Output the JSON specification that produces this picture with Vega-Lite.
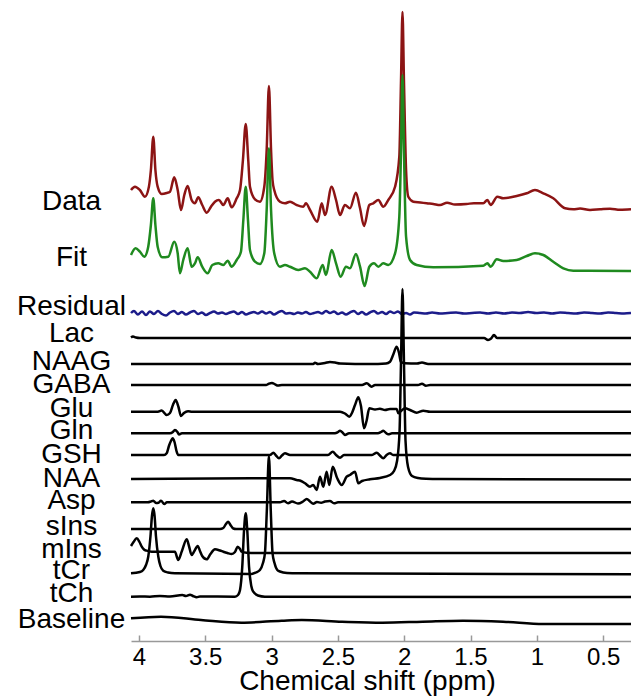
{
"$schema": "https://vega.github.io/schema/vega-lite/v6.json",
"width": 500, "height": 641,
"autosize": {"type": "none"},
"padding": {"left": 131, "top": 0, "right": 0, "bottom": 59},
"background": "white",
"config": {"view": {"stroke": null}, "font": "Liberation Sans"},
"data": {"values": [
{"s":"Data","x":4.060,"y":451},{"s":"Data","x":4.030,"y":454.3},{"s":"Data","x":3.993,"y":451},{"s":"Data","x":3.955,"y":444.3},{"s":"Data","x":3.925,"y":454.3},{"s":"Data","x":3.910,"y":471},{"s":"Data","x":3.892,"y":504.3},{"s":"Data","x":3.876,"y":471},{"s":"Data","x":3.859,"y":454.3},{"s":"Data","x":3.829,"y":447},{"s":"Data","x":3.791,"y":448},{"s":"Data","x":3.766,"y":449.3},{"s":"Data","x":3.734,"y":463.7},{"s":"Data","x":3.708,"y":451},{"s":"Data","x":3.683,"y":431},{"s":"Data","x":3.658,"y":446},{"s":"Data","x":3.633,"y":455},{"s":"Data","x":3.603,"y":441},{"s":"Data","x":3.578,"y":437.7},{"s":"Data","x":3.553,"y":443.7},{"s":"Data","x":3.523,"y":436},{"s":"Data","x":3.489,"y":428.3},{"s":"Data","x":3.457,"y":434.3},{"s":"Data","x":3.427,"y":439.3},{"s":"Data","x":3.397,"y":441},{"s":"Data","x":3.364,"y":436},{"s":"Data","x":3.331,"y":442.7},{"s":"Data","x":3.301,"y":433.7},{"s":"Data","x":3.263,"y":442.7},{"s":"Data","x":3.238,"y":451},{"s":"Data","x":3.216,"y":481},{"s":"Data","x":3.195,"y":517},{"s":"Data","x":3.176,"y":481},{"s":"Data","x":3.163,"y":454.3},{"s":"Data","x":3.125,"y":441.7},{"s":"Data","x":3.088,"y":439.3},{"s":"Data","x":3.055,"y":454.3},{"s":"Data","x":3.037,"y":491},{"s":"Data","x":3.020,"y":555},{"s":"Data","x":3.004,"y":491},{"s":"Data","x":2.993,"y":461},{"s":"Data","x":2.980,"y":451},{"s":"Data","x":2.937,"y":439.3},{"s":"Data","x":2.899,"y":437.7},{"s":"Data","x":2.861,"y":439.3},{"s":"Data","x":2.811,"y":436},{"s":"Data","x":2.761,"y":434.3},{"s":"Data","x":2.741,"y":437.7},{"s":"Data","x":2.710,"y":431},{"s":"Data","x":2.655,"y":419.3},{"s":"Data","x":2.622,"y":437.7},{"s":"Data","x":2.597,"y":426},{"s":"Data","x":2.547,"y":454.3},{"s":"Data","x":2.514,"y":441},{"s":"Data","x":2.484,"y":426},{"s":"Data","x":2.447,"y":436},{"s":"Data","x":2.409,"y":432.7},{"s":"Data","x":2.364,"y":448.3},{"s":"Data","x":2.333,"y":432.7},{"s":"Data","x":2.303,"y":415},{"s":"Data","x":2.263,"y":436},{"s":"Data","x":2.233,"y":437.7},{"s":"Data","x":2.195,"y":441},{"s":"Data","x":2.158,"y":434.3},{"s":"Data","x":2.120,"y":441},{"s":"Data","x":2.069,"y":454.3},{"s":"Data","x":2.037,"y":484.3},{"s":"Data","x":2.024,"y":561},{"s":"Data","x":2.013,"y":629},{"s":"Data","x":2.002,"y":561},{"s":"Data","x":1.986,"y":471},{"s":"Data","x":1.969,"y":444.3},{"s":"Data","x":1.931,"y":439.3},{"s":"Data","x":1.878,"y":438.5},{"s":"Data","x":1.830,"y":437.7},{"s":"Data","x":1.781,"y":437},{"s":"Data","x":1.730,"y":436},{"s":"Data","x":1.677,"y":438.3},{"s":"Data","x":1.617,"y":436.5},{"s":"Data","x":1.529,"y":437},{"s":"Data","x":1.474,"y":437.8},{"s":"Data","x":1.404,"y":437.7},{"s":"Data","x":1.373,"y":441},{"s":"Data","x":1.348,"y":436},{"s":"Data","x":1.298,"y":444.3},{"s":"Data","x":1.253,"y":442.7},{"s":"Data","x":1.152,"y":445},{"s":"Data","x":1.076,"y":447.7},{"s":"Data","x":1.014,"y":451},{"s":"Data","x":0.951,"y":447.7},{"s":"Data","x":0.876,"y":442.7},{"s":"Data","x":0.787,"y":432.7},{"s":"Data","x":0.725,"y":431.7},{"s":"Data","x":0.674,"y":432.5},{"s":"Data","x":0.599,"y":431},{"s":"Data","x":0.523,"y":431.7},{"s":"Data","x":0.448,"y":432.3},{"s":"Data","x":0.373,"y":431.2},{"s":"Data","x":0.290,"y":431.7},

{"s":"Fit","x":4.060,"y":386},{"s":"Fit","x":4.025,"y":392.7},{"s":"Fit","x":3.993,"y":389.3},{"s":"Fit","x":3.960,"y":384.3},{"s":"Fit","x":3.930,"y":394.3},{"s":"Fit","x":3.910,"y":416},{"s":"Fit","x":3.892,"y":442.7},{"s":"Fit","x":3.876,"y":416},{"s":"Fit","x":3.859,"y":394.3},{"s":"Fit","x":3.824,"y":383.7},{"s":"Fit","x":3.779,"y":384.3},{"s":"Fit","x":3.734,"y":399.3},{"s":"Fit","x":3.708,"y":387.7},{"s":"Fit","x":3.691,"y":367.7},{"s":"Fit","x":3.666,"y":381},{"s":"Fit","x":3.633,"y":392.7},{"s":"Fit","x":3.603,"y":374.3},{"s":"Fit","x":3.578,"y":377.7},{"s":"Fit","x":3.557,"y":383.7},{"s":"Fit","x":3.523,"y":374.3},{"s":"Fit","x":3.482,"y":367.7},{"s":"Fit","x":3.447,"y":376},{"s":"Fit","x":3.402,"y":377.7},{"s":"Fit","x":3.364,"y":376},{"s":"Fit","x":3.331,"y":380.3},{"s":"Fit","x":3.301,"y":374.3},{"s":"Fit","x":3.263,"y":381},{"s":"Fit","x":3.231,"y":389.3},{"s":"Fit","x":3.213,"y":421},{"s":"Fit","x":3.195,"y":454.3},{"s":"Fit","x":3.178,"y":421},{"s":"Fit","x":3.163,"y":391},{"s":"Fit","x":3.125,"y":379.3},{"s":"Fit","x":3.088,"y":377},{"s":"Fit","x":3.055,"y":387.7},{"s":"Fit","x":3.037,"y":431},{"s":"Fit","x":3.020,"y":492.7},{"s":"Fit","x":3.004,"y":431},{"s":"Fit","x":2.980,"y":387.7},{"s":"Fit","x":2.937,"y":374.3},{"s":"Fit","x":2.899,"y":376},{"s":"Fit","x":2.861,"y":374.3},{"s":"Fit","x":2.799,"y":371},{"s":"Fit","x":2.748,"y":372.7},{"s":"Fit","x":2.710,"y":369.3},{"s":"Fit","x":2.660,"y":362.7},{"s":"Fit","x":2.615,"y":376},{"s":"Fit","x":2.590,"y":366},{"s":"Fit","x":2.547,"y":391},{"s":"Fit","x":2.514,"y":377.7},{"s":"Fit","x":2.479,"y":364.3},{"s":"Fit","x":2.439,"y":374.3},{"s":"Fit","x":2.409,"y":372.7},{"s":"Fit","x":2.364,"y":387},{"s":"Fit","x":2.333,"y":374.3},{"s":"Fit","x":2.299,"y":355},{"s":"Fit","x":2.263,"y":374.3},{"s":"Fit","x":2.228,"y":377.7},{"s":"Fit","x":2.195,"y":374.3},{"s":"Fit","x":2.158,"y":377.7},{"s":"Fit","x":2.120,"y":376},{"s":"Fit","x":2.069,"y":387.7},{"s":"Fit","x":2.037,"y":424.3},{"s":"Fit","x":2.024,"y":491},{"s":"Fit","x":2.013,"y":566},{"s":"Fit","x":2.002,"y":491},{"s":"Fit","x":1.986,"y":404.3},{"s":"Fit","x":1.956,"y":381},{"s":"Fit","x":1.906,"y":376},{"s":"Fit","x":1.781,"y":373.7},{"s":"Fit","x":1.404,"y":375.3},{"s":"Fit","x":1.373,"y":377.7},{"s":"Fit","x":1.348,"y":374.3},{"s":"Fit","x":1.302,"y":381.7},{"s":"Fit","x":1.253,"y":380},{"s":"Fit","x":1.152,"y":381},{"s":"Fit","x":1.076,"y":385},{"s":"Fit","x":1.014,"y":387.7},{"s":"Fit","x":0.951,"y":386},{"s":"Fit","x":0.876,"y":379.3},{"s":"Fit","x":0.800,"y":372.7},{"s":"Fit","x":0.725,"y":370.3},{"s":"Fit","x":0.290,"y":370},

{"s":"Residual","x":4.060,"y":328},{"s":"Residual","x":4.038,"y":330},{"s":"Residual","x":4.008,"y":326.5},{"s":"Residual","x":3.977,"y":329.5},{"s":"Residual","x":3.947,"y":326},{"s":"Residual","x":3.917,"y":329.5},{"s":"Residual","x":3.887,"y":327},{"s":"Residual","x":3.857,"y":330},{"s":"Residual","x":3.827,"y":327},{"s":"Residual","x":3.796,"y":325.5},{"s":"Residual","x":3.766,"y":328.5},{"s":"Residual","x":3.736,"y":330},{"s":"Residual","x":3.706,"y":327},{"s":"Residual","x":3.676,"y":329},{"s":"Residual","x":3.646,"y":326.5},{"s":"Residual","x":3.615,"y":328.5},{"s":"Residual","x":3.585,"y":330},{"s":"Residual","x":3.555,"y":327},{"s":"Residual","x":3.525,"y":328.5},{"s":"Residual","x":3.495,"y":326},{"s":"Residual","x":3.465,"y":328},{"s":"Residual","x":3.434,"y":329.5},{"s":"Residual","x":3.404,"y":327.5},{"s":"Residual","x":3.374,"y":328.5},{"s":"Residual","x":3.344,"y":327},{"s":"Residual","x":3.314,"y":328.5},{"s":"Residual","x":3.284,"y":329.5},{"s":"Residual","x":3.253,"y":327},{"s":"Residual","x":3.223,"y":329},{"s":"Residual","x":3.193,"y":326.5},{"s":"Residual","x":3.163,"y":328},{"s":"Residual","x":3.133,"y":329},{"s":"Residual","x":3.103,"y":327.5},{"s":"Residual","x":3.072,"y":329.5},{"s":"Residual","x":3.042,"y":327.5},{"s":"Residual","x":3.012,"y":329},{"s":"Residual","x":2.982,"y":326.5},{"s":"Residual","x":2.952,"y":328.5},{"s":"Residual","x":2.922,"y":330},{"s":"Residual","x":2.891,"y":327.5},{"s":"Residual","x":2.861,"y":328},{"s":"Residual","x":2.831,"y":327},{"s":"Residual","x":2.801,"y":328.5},{"s":"Residual","x":2.771,"y":327.5},{"s":"Residual","x":2.741,"y":329},{"s":"Residual","x":2.710,"y":327},{"s":"Residual","x":2.680,"y":328},{"s":"Residual","x":2.650,"y":329},{"s":"Residual","x":2.620,"y":327.5},{"s":"Residual","x":2.590,"y":330},{"s":"Residual","x":2.560,"y":328},{"s":"Residual","x":2.529,"y":329.5},{"s":"Residual","x":2.499,"y":327},{"s":"Residual","x":2.469,"y":328.5},{"s":"Residual","x":2.439,"y":326.5},{"s":"Residual","x":2.409,"y":328.5},{"s":"Residual","x":2.379,"y":330},{"s":"Residual","x":2.348,"y":327},{"s":"Residual","x":2.318,"y":329},{"s":"Residual","x":2.288,"y":326.5},{"s":"Residual","x":2.258,"y":328.5},{"s":"Residual","x":2.228,"y":330},{"s":"Residual","x":2.198,"y":327.5},{"s":"Residual","x":2.167,"y":329},{"s":"Residual","x":2.137,"y":327},{"s":"Residual","x":2.107,"y":329.5},{"s":"Residual","x":2.077,"y":328},{"s":"Residual","x":2.047,"y":329.5},{"s":"Residual","x":2.017,"y":327},{"s":"Residual","x":1.986,"y":328},{"s":"Residual","x":1.956,"y":326.5},{"s":"Residual","x":1.926,"y":328.5},{"s":"Residual","x":1.881,"y":328},{"s":"Residual","x":1.836,"y":327.5},{"s":"Residual","x":1.790,"y":328.5},{"s":"Residual","x":1.730,"y":327.5},{"s":"Residual","x":1.670,"y":328},{"s":"Residual","x":1.609,"y":328.5},{"s":"Residual","x":1.549,"y":327.5},{"s":"Residual","x":1.489,"y":328},{"s":"Residual","x":1.428,"y":328.5},{"s":"Residual","x":1.368,"y":327.5},{"s":"Residual","x":1.308,"y":328.5},{"s":"Residual","x":1.247,"y":327.5},{"s":"Residual","x":1.187,"y":328.5},{"s":"Residual","x":1.127,"y":328},{"s":"Residual","x":1.066,"y":329},{"s":"Residual","x":1.006,"y":328},{"s":"Residual","x":0.946,"y":328.5},{"s":"Residual","x":0.885,"y":327.5},{"s":"Residual","x":0.825,"y":328.5},{"s":"Residual","x":0.765,"y":328},{"s":"Residual","x":0.704,"y":327.5},{"s":"Residual","x":0.644,"y":328.5},{"s":"Residual","x":0.584,"y":328},{"s":"Residual","x":0.523,"y":327.5},{"s":"Residual","x":0.463,"y":328.5},{"s":"Residual","x":0.403,"y":328},{"s":"Residual","x":0.342,"y":327.5},{"s":"Residual","x":0.290,"y":328},

{"s":"Lac","x":4.060,"y":303.5},{"s":"Lac","x":4.045,"y":304.5},{"s":"Lac","x":4.023,"y":303.5},{"s":"Lac","x":3.993,"y":303},{"s":"Lac","x":1.428,"y":303},{"s":"Lac","x":1.398,"y":303},{"s":"Lac","x":1.368,"y":301},{"s":"Lac","x":1.345,"y":302.5},{"s":"Lac","x":1.323,"y":306},{"s":"Lac","x":1.300,"y":303},{"s":"Lac","x":1.277,"y":303},{"s":"Lac","x":0.290,"y":303},

{"s":"NAAG","x":4.060,"y":277},{"s":"NAAG","x":2.785,"y":277},{"s":"NAAG","x":2.686,"y":277},{"s":"NAAG","x":2.673,"y":278.3},{"s":"NAAG","x":2.650,"y":277},{"s":"NAAG","x":2.597,"y":278},{"s":"NAAG","x":2.560,"y":279},{"s":"NAAG","x":2.522,"y":278.5},{"s":"NAAG","x":2.484,"y":277.5},{"s":"NAAG","x":2.258,"y":277},{"s":"NAAG","x":2.137,"y":277.5},{"s":"NAAG","x":2.107,"y":279.3},{"s":"NAAG","x":2.084,"y":286},{"s":"NAAG","x":2.057,"y":294.3},{"s":"NAAG","x":2.039,"y":288},{"s":"NAAG","x":2.026,"y":279.3},{"s":"NAAG","x":1.994,"y":277.7},{"s":"NAAG","x":1.903,"y":277.5},{"s":"NAAG","x":1.866,"y":278.5},{"s":"NAAG","x":1.820,"y":277},{"s":"NAAG","x":0.290,"y":277},

{"s":"GABA","x":4.060,"y":256},{"s":"GABA","x":3.042,"y":256},{"s":"GABA","x":3.020,"y":257.3},{"s":"GABA","x":2.997,"y":258},{"s":"GABA","x":2.974,"y":256.7},{"s":"GABA","x":2.952,"y":255.5},{"s":"GABA","x":2.922,"y":256},{"s":"GABA","x":2.318,"y":256},{"s":"GABA","x":2.283,"y":257.7},{"s":"GABA","x":2.245,"y":254.3},{"s":"GABA","x":2.220,"y":256},{"s":"GABA","x":1.896,"y":256},{"s":"GABA","x":1.866,"y":257.3},{"s":"GABA","x":1.836,"y":255.3},{"s":"GABA","x":1.805,"y":256},{"s":"GABA","x":0.290,"y":256},

{"s":"Glu","x":4.060,"y":229.3},{"s":"Glu","x":3.857,"y":229.3},{"s":"Glu","x":3.829,"y":230.5},{"s":"Glu","x":3.791,"y":226},{"s":"Glu","x":3.766,"y":228},{"s":"Glu","x":3.744,"y":236},{"s":"Glu","x":3.723,"y":241},{"s":"Glu","x":3.702,"y":234},{"s":"Glu","x":3.683,"y":225},{"s":"Glu","x":3.661,"y":228},{"s":"Glu","x":3.630,"y":229.8},{"s":"Glu","x":3.600,"y":229.3},{"s":"Glu","x":2.484,"y":229.3},{"s":"Glu","x":2.447,"y":227.5},{"s":"Glu","x":2.414,"y":224.3},{"s":"Glu","x":2.394,"y":228},{"s":"Glu","x":2.371,"y":236},{"s":"Glu","x":2.346,"y":243.7},{"s":"Glu","x":2.326,"y":235},{"s":"Glu","x":2.303,"y":212.7},{"s":"Glu","x":2.284,"y":220},{"s":"Glu","x":2.263,"y":232.7},{"s":"Glu","x":2.220,"y":231.5},{"s":"Glu","x":2.183,"y":232.3},{"s":"Glu","x":2.145,"y":231},{"s":"Glu","x":2.107,"y":232},{"s":"Glu","x":2.057,"y":232},{"s":"Glu","x":2.044,"y":227.7},{"s":"Glu","x":2.024,"y":230},{"s":"Glu","x":1.994,"y":232.7},{"s":"Glu","x":1.956,"y":231},{"s":"Glu","x":1.906,"y":228.3},{"s":"Glu","x":1.856,"y":230.3},{"s":"Glu","x":1.805,"y":229.3},{"s":"Glu","x":0.290,"y":229.3},

{"s":"Gln","x":4.060,"y":207.7},{"s":"Gln","x":3.766,"y":207.7},{"s":"Gln","x":3.744,"y":209},{"s":"Gln","x":3.729,"y":211},{"s":"Gln","x":3.710,"y":209},{"s":"Gln","x":3.698,"y":206.5},{"s":"Gln","x":3.676,"y":207.7},{"s":"Gln","x":2.522,"y":207.7},{"s":"Gln","x":2.499,"y":209},{"s":"Gln","x":2.484,"y":210.3},{"s":"Gln","x":2.462,"y":208},{"s":"Gln","x":2.447,"y":206},{"s":"Gln","x":2.416,"y":207.7},{"s":"Gln","x":2.198,"y":207.7},{"s":"Gln","x":2.175,"y":209},{"s":"Gln","x":2.158,"y":210.3},{"s":"Gln","x":2.137,"y":208},{"s":"Gln","x":2.120,"y":206.7},{"s":"Gln","x":2.092,"y":207.7},{"s":"Gln","x":0.290,"y":207.7},

{"s":"GSH","x":4.060,"y":186},{"s":"GSH","x":3.811,"y":186},{"s":"GSH","x":3.791,"y":187.7},{"s":"GSH","x":3.774,"y":195},{"s":"GSH","x":3.759,"y":200},{"s":"GSH","x":3.746,"y":202.7},{"s":"GSH","x":3.732,"y":199},{"s":"GSH","x":3.717,"y":190},{"s":"GSH","x":3.704,"y":186},{"s":"GSH","x":3.012,"y":186},{"s":"GSH","x":2.987,"y":188.3},{"s":"GSH","x":2.967,"y":185.5},{"s":"GSH","x":2.944,"y":182.7},{"s":"GSH","x":2.922,"y":185.5},{"s":"GSH","x":2.899,"y":187.7},{"s":"GSH","x":2.861,"y":186},{"s":"GSH","x":2.575,"y":186},{"s":"GSH","x":2.539,"y":189.3},{"s":"GSH","x":2.514,"y":186},{"s":"GSH","x":2.484,"y":183.3},{"s":"GSH","x":2.454,"y":186},{"s":"GSH","x":2.243,"y":186},{"s":"GSH","x":2.207,"y":188.3},{"s":"GSH","x":2.183,"y":185.5},{"s":"GSH","x":2.158,"y":182.7},{"s":"GSH","x":2.133,"y":186},{"s":"GSH","x":2.107,"y":187.7},{"s":"GSH","x":2.084,"y":186},{"s":"GSH","x":0.290,"y":186},

{"s":"NAA","x":4.060,"y":162},{"s":"NAA","x":2.861,"y":162.7},{"s":"NAA","x":2.811,"y":161},{"s":"NAA","x":2.778,"y":160},{"s":"NAA","x":2.748,"y":157.7},{"s":"NAA","x":2.710,"y":154.3},{"s":"NAA","x":2.686,"y":156},{"s":"NAA","x":2.660,"y":151},{"s":"NAA","x":2.635,"y":164.3},{"s":"NAA","x":2.610,"y":154.3},{"s":"NAA","x":2.585,"y":169.3},{"s":"NAA","x":2.565,"y":156},{"s":"NAA","x":2.539,"y":174.3},{"s":"NAA","x":2.505,"y":162.7},{"s":"NAA","x":2.471,"y":156},{"s":"NAA","x":2.434,"y":164.3},{"s":"NAA","x":2.409,"y":166},{"s":"NAA","x":2.371,"y":169.3},{"s":"NAA","x":2.346,"y":157.7},{"s":"NAA","x":2.318,"y":160},{"s":"NAA","x":2.258,"y":161.7},{"s":"NAA","x":2.183,"y":163},{"s":"NAA","x":2.107,"y":166},{"s":"NAA","x":2.077,"y":170},{"s":"NAA","x":2.054,"y":180},{"s":"NAA","x":2.035,"y":210},{"s":"NAA","x":2.024,"y":280},{"s":"NAA","x":2.013,"y":352},{"s":"NAA","x":2.002,"y":280},{"s":"NAA","x":1.990,"y":200},{"s":"NAA","x":1.971,"y":174},{"s":"NAA","x":1.941,"y":165},{"s":"NAA","x":1.896,"y":163},{"s":"NAA","x":1.836,"y":162.3},{"s":"NAA","x":1.730,"y":162},{"s":"NAA","x":0.290,"y":161.5},

{"s":"Asp","x":4.060,"y":138.7},{"s":"Asp","x":3.932,"y":138.7},{"s":"Asp","x":3.910,"y":139.5},{"s":"Asp","x":3.892,"y":140.3},{"s":"Asp","x":3.872,"y":138},{"s":"Asp","x":3.853,"y":138.3},{"s":"Asp","x":3.834,"y":140.3},{"s":"Asp","x":3.809,"y":137},{"s":"Asp","x":3.789,"y":138.7},{"s":"Asp","x":2.937,"y":138.7},{"s":"Asp","x":2.906,"y":140},{"s":"Asp","x":2.876,"y":137.7},{"s":"Asp","x":2.846,"y":139.5},{"s":"Asp","x":2.801,"y":137.5},{"s":"Asp","x":2.763,"y":139.5},{"s":"Asp","x":2.735,"y":142},{"s":"Asp","x":2.710,"y":139.5},{"s":"Asp","x":2.686,"y":137.3},{"s":"Asp","x":2.658,"y":139},{"s":"Asp","x":2.627,"y":138.3},{"s":"Asp","x":2.597,"y":139.5},{"s":"Asp","x":2.560,"y":140},{"s":"Asp","x":2.529,"y":137.7},{"s":"Asp","x":2.499,"y":138.7},{"s":"Asp","x":0.290,"y":138.7},

{"s":"sIns","x":4.060,"y":112},{"s":"sIns","x":3.389,"y":112},{"s":"sIns","x":3.364,"y":113},{"s":"sIns","x":3.344,"y":117},{"s":"sIns","x":3.327,"y":119.3},{"s":"sIns","x":3.310,"y":116},{"s":"sIns","x":3.289,"y":112.5},{"s":"sIns","x":3.268,"y":112},{"s":"sIns","x":0.290,"y":112},

{"s":"mIns","x":4.060,"y":95},{"s":"mIns","x":4.041,"y":99},{"s":"mIns","x":4.017,"y":102.7},{"s":"mIns","x":3.996,"y":99},{"s":"mIns","x":3.979,"y":94.3},{"s":"mIns","x":3.962,"y":91.5},{"s":"mIns","x":3.942,"y":90.3},{"s":"mIns","x":3.904,"y":89.3},{"s":"mIns","x":3.729,"y":89.3},{"s":"mIns","x":3.704,"y":81},{"s":"mIns","x":3.676,"y":90},{"s":"mIns","x":3.640,"y":101.7},{"s":"mIns","x":3.623,"y":95},{"s":"mIns","x":3.603,"y":86},{"s":"mIns","x":3.582,"y":90},{"s":"mIns","x":3.557,"y":95},{"s":"mIns","x":3.540,"y":90},{"s":"mIns","x":3.523,"y":85},{"s":"mIns","x":3.489,"y":81.7},{"s":"mIns","x":3.461,"y":87},{"s":"mIns","x":3.427,"y":91.7},{"s":"mIns","x":3.389,"y":90.5},{"s":"mIns","x":3.364,"y":89.3},{"s":"mIns","x":3.333,"y":88},{"s":"mIns","x":3.301,"y":87},{"s":"mIns","x":3.276,"y":89},{"s":"mIns","x":3.256,"y":94.3},{"s":"mIns","x":3.238,"y":92},{"s":"mIns","x":3.226,"y":89.3},{"s":"mIns","x":3.188,"y":88.3},{"s":"mIns","x":3.088,"y":88},{"s":"mIns","x":0.290,"y":88},

{"s":"tCr","x":4.060,"y":67.7},{"s":"tCr","x":3.993,"y":69},{"s":"tCr","x":3.968,"y":71},{"s":"tCr","x":3.947,"y":76},{"s":"tCr","x":3.930,"y":84.3},{"s":"tCr","x":3.913,"y":105},{"s":"tCr","x":3.902,"y":125},{"s":"tCr","x":3.892,"y":132.7},{"s":"tCr","x":3.882,"y":125},{"s":"tCr","x":3.872,"y":105},{"s":"tCr","x":3.854,"y":84.3},{"s":"tCr","x":3.838,"y":75},{"s":"tCr","x":3.817,"y":70.3},{"s":"tCr","x":3.781,"y":68.5},{"s":"tCr","x":3.729,"y":67.7},{"s":"tCr","x":3.150,"y":67},{"s":"tCr","x":3.118,"y":68.5},{"s":"tCr","x":3.088,"y":71},{"s":"tCr","x":3.065,"y":78},{"s":"tCr","x":3.050,"y":88},{"s":"tCr","x":3.036,"y":130},{"s":"tCr","x":3.020,"y":185},{"s":"tCr","x":3.006,"y":130},{"s":"tCr","x":2.993,"y":88},{"s":"tCr","x":2.978,"y":78},{"s":"tCr","x":2.957,"y":71},{"s":"tCr","x":2.937,"y":69.5},{"s":"tCr","x":2.884,"y":68},{"s":"tCr","x":2.799,"y":67.7},{"s":"tCr","x":0.290,"y":66.7},

{"s":"tCh","x":4.060,"y":44.3},{"s":"tCh","x":3.993,"y":44.5},{"s":"tCh","x":3.917,"y":44.3},{"s":"tCh","x":3.842,"y":45},{"s":"tCh","x":3.766,"y":44.5},{"s":"tCh","x":3.673,"y":46},{"s":"tCh","x":3.646,"y":45},{"s":"tCh","x":3.615,"y":46.3},{"s":"tCh","x":3.593,"y":45},{"s":"tCh","x":3.565,"y":43.7},{"s":"tCh","x":3.540,"y":44.5},{"s":"tCh","x":3.276,"y":44.3},{"s":"tCh","x":3.253,"y":46},{"s":"tCh","x":3.238,"y":51},{"s":"tCh","x":3.221,"y":74.3},{"s":"tCh","x":3.208,"y":110},{"s":"tCh","x":3.195,"y":127.7},{"s":"tCh","x":3.183,"y":110},{"s":"tCh","x":3.170,"y":74.3},{"s":"tCh","x":3.153,"y":55},{"s":"tCh","x":3.138,"y":49.3},{"s":"tCh","x":3.103,"y":45.5},{"s":"tCh","x":3.050,"y":44.3},{"s":"tCh","x":0.290,"y":44},

{"s":"Baseline","x":4.060,"y":22.7},{"s":"Baseline","x":3.834,"y":24.3},{"s":"Baseline","x":3.532,"y":21},{"s":"Baseline","x":3.228,"y":18.3},{"s":"Baseline","x":2.924,"y":20.3},{"s":"Baseline","x":2.772,"y":21},{"s":"Baseline","x":2.469,"y":19.3},{"s":"Baseline","x":2.165,"y":18.3},{"s":"Baseline","x":1.862,"y":19.3},{"s":"Baseline","x":1.558,"y":20.3},{"s":"Baseline","x":1.255,"y":19.3},{"s":"Baseline","x":0.951,"y":17},{"s":"Baseline","x":0.648,"y":17},{"s":"Baseline","x":0.290,"y":17}
]},
"mark": {"type": "line", "interpolate": "monotone", "clip": false},
"encoding": {
  "x": {"field": "x", "type": "quantitative",
    "scale": {"domain": [0.29, 4.06], "reverse": true, "nice": false, "zero": false},
    "axis": {"values": [4, 3.5, 3, 2.5, 2, 1.5, 1, 0.5], "format": "~g", "grid": false,
      "title": "Chemical shift (ppm)", "titleFontSize": 28, "titleFontWeight": "normal", "titleColor": "#000", "titleX": 236, "titlePadding": -2,
      "labelFontSize": 24, "labelColor": "#000", "labelPadding": 10, "labelFlush": false, "labelOverlap": false, "labelBound": false,
      "tickSize": -6, "tickColor": "#999", "tickWidth": 1.5, "domainColor": "#999", "domainWidth": 1.5}},
  "y": {"field": "y", "type": "quantitative",
    "scale": {"domain": [0, 641], "nice": false, "zero": false},
    "axis": {"values": [440, 384, 335, 307.5, 280, 257, 233, 211, 187, 163, 141, 115, 92, 71, 48, 22],
      "labelExpr": "['Data','Fit','Residual','Lac','NAAG','GABA','Glu','Gln','GSH','NAA','Asp','sIns','mIns','tCr','tCh','Baseline'][indexof([440,384,335,307.5,280,257,233,211,187,163,141,115,92,71,48,22], datum.value)]",
      "domain": false, "ticks": false, "grid": false, "title": null,
      "labelFontSize": 28, "labelColor": "#000", "labelAlign": "center", "labelBaseline": "middle", "labelPadding": 60,
      "labelOverlap": false, "labelFlush": false, "labelBound": false}},
  "color": {"field": "s", "type": "nominal",
    "scale": {"domain": ["Data","Fit","Residual","Lac","NAAG","GABA","Glu","Gln","GSH","NAA","Asp","sIns","mIns","tCr","tCh","Baseline"],
      "range": ["#8c1414","#1f8a1f","#1c1c8a","#000000","#000000","#000000","#000000","#000000","#000000","#000000","#000000","#000000","#000000","#000000","#000000","#000000"]},
    "legend": null},
  "strokeWidth": {"field": "s", "type": "ordinal",
    "scale": {"domain": ["Data","Fit","Residual","Lac","NAAG","GABA","Glu","Gln","GSH","NAA","Asp","sIns","mIns","tCr","tCh","Baseline"],
      "range": [2.5,2.5,2,2,2,2,2,2,2,2,2,2,2,2,2,2]},
    "legend": null}
}
}
